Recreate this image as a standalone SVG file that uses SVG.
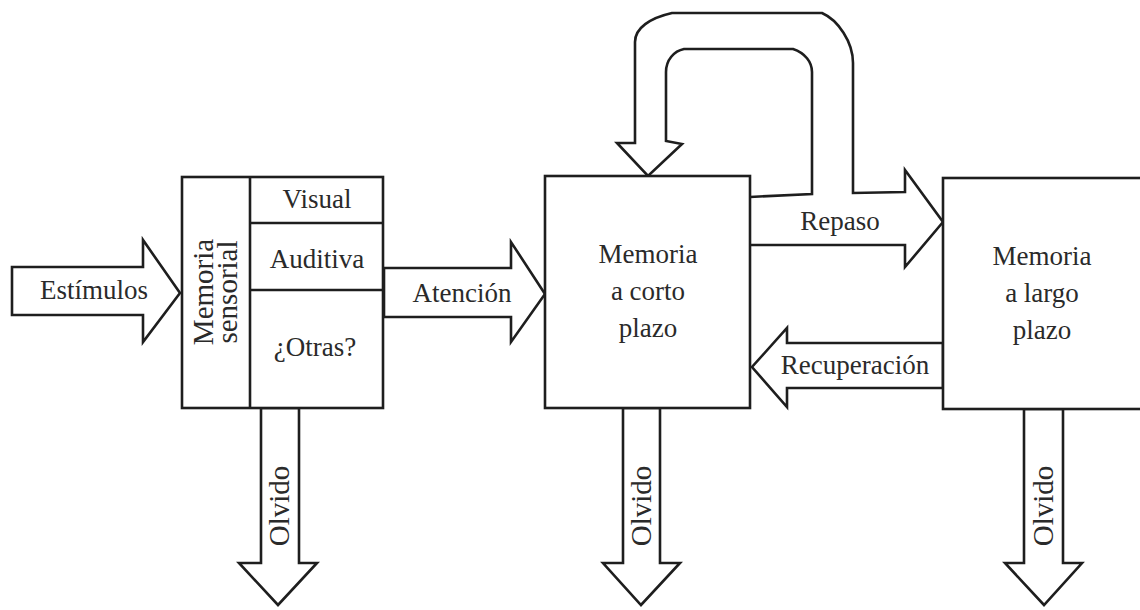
<svg xmlns="http://www.w3.org/2000/svg" width="1140" height="610" viewBox="0 0 1140 610">
<style>
.box{fill:#fff;stroke:#1e1e1e;stroke-width:2.6}
.ln{fill:none;stroke:#1e1e1e;stroke-width:2.6}
.arr{fill:#fff;stroke:#1e1e1e;stroke-width:2.6;stroke-linejoin:miter}
.t{font-family:"Liberation Serif","Times New Roman",serif;font-size:27px;fill:#2a2a2a;text-anchor:middle}
.r{font-family:"Liberation Serif","Times New Roman",serif;font-size:29px;fill:#2a2a2a;text-anchor:middle}
</style>
<rect width="1140" height="610" fill="#fff"/>
<g id="connectors">
  <g id="estimulos">
    <polygon class="arr" points="12,267 143,267 143,240 180,293 143,342 143,315 12,315"/>
    <text class="t" x="94" y="299">Estímulos</text>
  </g>
  <g id="atencion">
    <polygon class="arr" points="384,268 511,268 511,242 545,294 511,342 511,317 384,317"/>
    <text class="t" x="462" y="302">Atención</text>
  </g>
  <g id="repaso">
    <path class="ln" d="M750,197 L812,194 L812,72 C812,62 805,53 793,49 L684,49 C674,51 666,60 666,72 L666,141 L682,144 L648,176 L617,143 L635,143 L635,42 C635,28 650,18 672,13 L822,13 C838,20 853,42 853,63 L853,193 L905,192 L905,170 L943,222 L905,267 L905,245 L750,245"/>
    <text class="t" x="840" y="230">Repaso</text>
  </g>
  <g id="recuperacion">
    <polygon class="arr" points="943,343 787,343 787,328 752,367 787,407 787,388 943,388"/>
    <text class="t" x="855" y="374">Recuperación</text>
  </g>
  <g id="olvido1">
    <polygon class="arr" points="261,408 261,563 239,563 278,605 317,563 299,563 299,408"/>
    <text class="r" transform="translate(289,506) rotate(-90)">Olvido</text>
  </g>
  <g id="olvido2">
    <polygon class="arr" points="623,408 623,563 603,563 641,605 680,563 660,563 660,408"/>
    <text class="r" transform="translate(651,506) rotate(-90)">Olvido</text>
  </g>
  <g id="olvido3">
    <polygon class="arr" points="1024,409 1024,563 1005,563 1044,605 1082,563 1063,563 1063,409"/>
    <text class="r" transform="translate(1053,506) rotate(-90)">Olvido</text>
  </g>
</g>
<g id="memoria-sensorial">
  <rect class="box" x="182" y="177" width="201" height="231"/>
  <line class="ln" x1="250" y1="177" x2="250" y2="408"/>
  <line class="ln" x1="250" y1="223" x2="383" y2="223"/>
  <line class="ln" x1="250" y1="290" x2="383" y2="290"/>
  <text class="r" transform="translate(213,292) rotate(-90)">Memoria</text>
  <text class="r" transform="translate(237,292) rotate(-90)">sensorial</text>
  <text class="t" x="317" y="208">Visual</text>
  <text class="t" x="317" y="268">Auditiva</text>
  <text class="t" x="315" y="356">¿Otras?</text>
</g>
<g id="memoria-corto-plazo">
  <rect class="box" x="545" y="176" width="205" height="232"/>
  <text class="t" x="648" y="263">Memoria</text>
  <text class="t" x="648" y="300">a corto</text>
  <text class="t" x="648" y="337">plazo</text>
</g>
<g id="memoria-largo-plazo">
  <rect class="box" x="943" y="178" width="220" height="231"/>
  <text class="t" x="1042" y="265">Memoria</text>
  <text class="t" x="1042" y="302">a largo</text>
  <text class="t" x="1042" y="339">plazo</text>
</g>
</svg>
